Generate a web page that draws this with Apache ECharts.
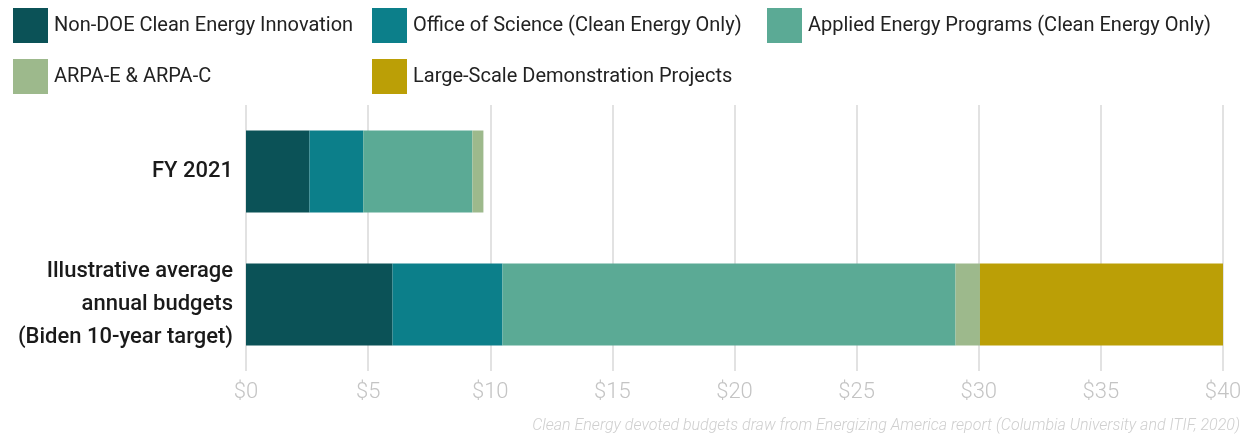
<!DOCTYPE html>
<html>
<head>
<meta charset="utf-8">
<script src="https://cdn.jsdelivr.net/npm/echarts@6/dist/echarts.min.js"></script>
<style>
  html, body { margin: 0; padding: 0; background: #fff; }
  #chart { width: 1246px; height: 438px; }
</style>
</head>
<body>
<div id="chart"></div>
<script>
const categories = ['FY 2021', 'Illustrative average\nannual budgets\n(Biden 10-year target)'];
const seriesNames = [
  'Non-DOE Clean Energy Innovation',
  'Office of Science (Clean Energy Only)',
  'Applied Energy Programs (Clean Energy Only)',
  'ARPA-E & ARPA-C',
  'Large-Scale Demonstration Projects'
];
const nonDOE = [2.6, 6.0];
const officeOfScience = [2.2, 4.5];
const appliedEnergy = [4.47, 18.55];
const arpa = [0.45, 1.0];
const largeScale = [0, 10.05];
const tickLabels = ['$0', '$5', '$10', '$15', '$20', '$25', '$30', '$35', '$40'];
const footnote = 'Clean Energy devoted budgets draw from Energizing America report (Columbia University and ITIF, 2020)';

const colors = ['#0b5257', '#0c7f8a', '#5baa95', '#9db98c', '#bb9f06'];
const values = [nonDOE, officeOfScience, appliedEnergy, arpa, largeScale];
const font = 'Roboto, "Noto Sans", sans-serif';

const legendPos = [
  { left: 13, top: 8 },
  { left: 372, top: 8 },
  { left: 767, top: 8 },
  { left: 13, top: 59 },
  { left: 372, top: 59 }
];

const chart = echarts.init(document.getElementById('chart'), null, { renderer: 'canvas' });
chart.setOption({
  animation: false,
  color: colors,
  textStyle: { fontFamily: font },
  title: {
    text: footnote,
    right: 6,
    top: 418,
    padding: 0,
    textStyle: { fontFamily: font, fontSize: 16, fontStyle: 'italic', fontWeight: 300, color: '#cfcfcf' }
  },
  legend: seriesNames.map((n, i) => ({
    data: [n],
    left: legendPos[i].left,
    top: legendPos[i].top,
    padding: 0,
    icon: 'rect',
    itemWidth: 35,
    itemHeight: 35,
    itemGap: 0,
    selectedMode: false,
    textStyle: { fontFamily: font, fontSize: 20, color: '#222', padding: [0, 0, 0, 1] }
  })),
  grid: { left: 246, right: 23, top: 105, height: 266, containLabel: false },
  xAxis: {
    type: 'value',
    min: 0,
    max: 40,
    interval: 5,
    axisLine: { show: false },
    axisTick: { show: false },
    splitLine: { show: true, lineStyle: { color: '#d9d9d9', width: 1.5 } },
    axisLabel: {
      margin: 10,
      fontFamily: font,
      fontSize: 22,
      fontWeight: 300,
      color: '#c4c4c4',
      formatter: (v) => tickLabels[Math.round(v / 5)]
    }
  },
  yAxis: {
    type: 'category',
    data: categories,
    inverse: true,
    axisLine: { show: false },
    axisTick: { show: false },
    axisLabel: {
      margin: 13,
      fontFamily: font,
      fontSize: 22,
      fontWeight: 500,
      color: '#1a1a1a',
      lineHeight: 33,
      padding: [6, 0, 0, 0],
      align: 'right'
    }
  },
  series: seriesNames.map((n, i) => ({
    name: n,
    type: 'bar',
    stack: 'total',
    barWidth: 82,
    data: values[i],
    itemStyle: { color: colors[i] },
    emphasis: { disabled: true }
  }))
});
</script>
</body>
</html>
